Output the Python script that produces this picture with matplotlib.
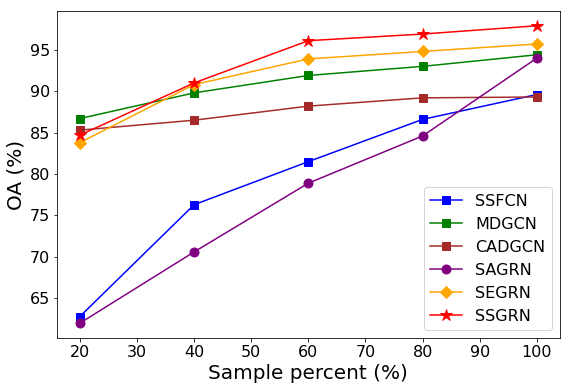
import matplotlib
matplotlib.use('Agg')
import matplotlib.pyplot as plt

# sample percent on x
percent = [20, 40, 60, 80, 100]

# OA (%) per method
ssfcn = [62.8, 76.3, 81.5, 86.6, 89.6]
mdgcn = [86.7, 89.8, 91.9, 93.0, 94.4]
cadgcn = [85.3, 86.5, 88.2, 89.2, 89.3]
sagrn = [62.0, 70.6, 78.9, 84.6, 94.0]
segrn = [83.8, 90.8, 93.9, 94.8, 95.7]
ssgrn = [84.7, 91.0, 96.1, 96.9, 97.9]

fig = plt.figure(figsize=(570 / 72, 389 / 72), dpi=72)
ax = fig.add_subplot(111)

ax.plot(percent, ssfcn, color='blue', marker='s', markersize=8, label='SSFCN')
ax.plot(percent, mdgcn, color='green', marker='s', markersize=8, label='MDGCN')
ax.plot(percent, cadgcn, color='brown', marker='s', markersize=8, label='CADGCN')
ax.plot(percent, sagrn, color='purple', marker='o', markersize=9, label='SAGRN')
ax.plot(percent, segrn, color='orange', marker='D', markersize=8, label='SEGRN')
ax.plot(percent, ssgrn, color='red', marker='*', markersize=12, label='SSGRN')

ax.set_xlabel('Sample percent (%)', fontsize=20)
ax.set_ylabel('OA (%)', fontsize=20)
ax.tick_params(labelsize=16)
ax.legend(loc='lower right', fontsize=16)

fig.subplots_adjust(left=0.1, right=0.982, top=0.972, bottom=0.131)
fig.savefig('out.png', dpi=72)
